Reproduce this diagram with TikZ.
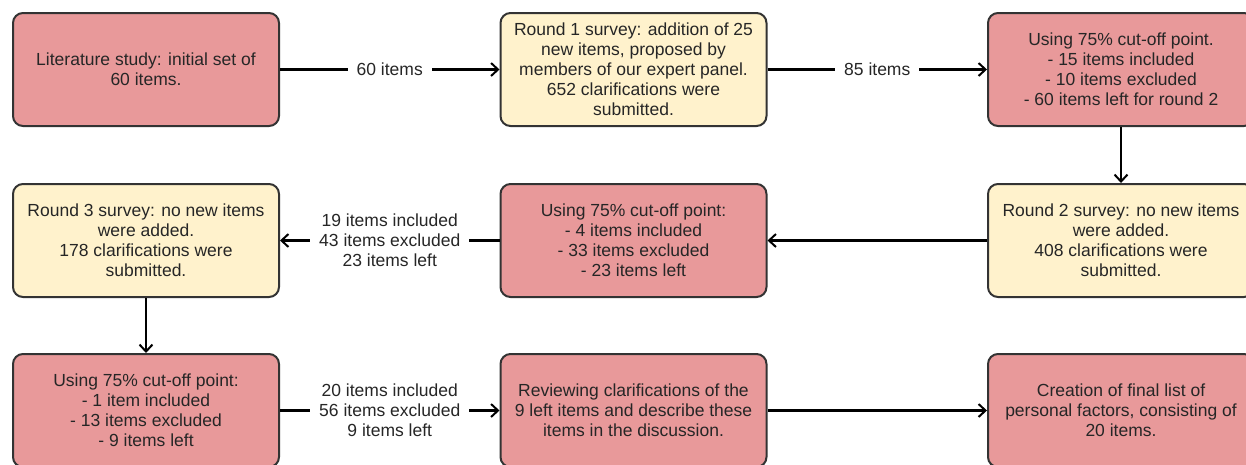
\documentclass[tikz,border=0pt]{standalone}
\usepackage{fontspec}
\setmainfont{Liberation Sans}
\usetikzlibrary{arrows.meta}
\definecolor{redfill}{HTML}{E8999A}
\definecolor{yelfill}{HTML}{FFF2CC}
\definecolor{edgegray}{HTML}{333333}
\tikzset{
  x=1pt, y=-1pt,
  stepbox/.style={draw=edgegray, line width=2pt, rounded corners=10pt,
    minimum width=266pt, minimum height=113pt, align=center,
    inner sep=2pt, font=\fontsize{17.5}{20}\selectfont, text=black!85},
  redbox/.style={stepbox, fill=redfill},
  yelbox/.style={stepbox, fill=yelfill},
  conn/.style={line width=2.2pt, -{Straight Barb[length=7pt,width=13pt,line width=2pt]}},
  lbl/.style={fill=white, align=center, inner xsep=9pt, inner ysep=2pt, font=\fontsize{17.5}{20}\selectfont, text=black!85}
}
\begin{document}
\begin{tikzpicture}
\useasboundingbox (0,0) rectangle (1246,464);
\clip (0,0) rectangle (1246,464);
\node[redbox] (b1) at (146,69.5) {Literature study: initial set of\\60 items.};
\node[yelbox] (b2) at (633.5,69.5) {Round 1 survey: addition of 25\\new items, proposed by\\members of our expert panel.\\652 clarifications were\\submitted.};
\node[redbox] (b3) at (1121,69.5) {Using 75\% cut-off point.\\- 15 items included\\- 10 items excluded\\- 60 items left for round 2};
\node[yelbox] (b6) at (1121,240.5) {Round 2 survey: no new items\\were added.\\408 clarifications were\\submitted.};
\node[redbox] (b5) at (633.5,240.5) {Using 75\% cut-off point:\\- 4 items included\\- 33 items excluded\\- 23 items left};
\node[yelbox] (b4) at (146,240.5) {Round 3 survey: no new items\\were added.\\178 clarifications were\\submitted.};
\node[redbox] (b7) at (146,410.5) {Using 75\% cut-off point:\\- 1 item included\\- 13 items excluded\\- 9 items left};
\node[redbox] (b8) at (633.5,410.5) {Reviewing clarifications of the\\9 left items and describe these\\items in the discussion.};
\node[redbox] (b9) at (1121,410.5) {Creation of final list of\\personal factors, consisting of\\20 items.};
\draw[conn] (b1) -- node[lbl] {60 items} (b2);
\draw[conn] (b2) -- node[lbl] {85 items} (b3);
\draw[conn] (b3) -- (b6);
\draw[conn] (b6) -- (b5);
\draw[conn] (b5) -- node[lbl] {19 items included\\43 items excluded\\23 items left} (b4);
\draw[conn] (b4) -- (b7);
\draw[conn] (b7) -- node[lbl] {20 items included\\56 items excluded\\9 items left} (b8);
\draw[conn] (b8) -- (b9);
\end{tikzpicture}
\end{document}
